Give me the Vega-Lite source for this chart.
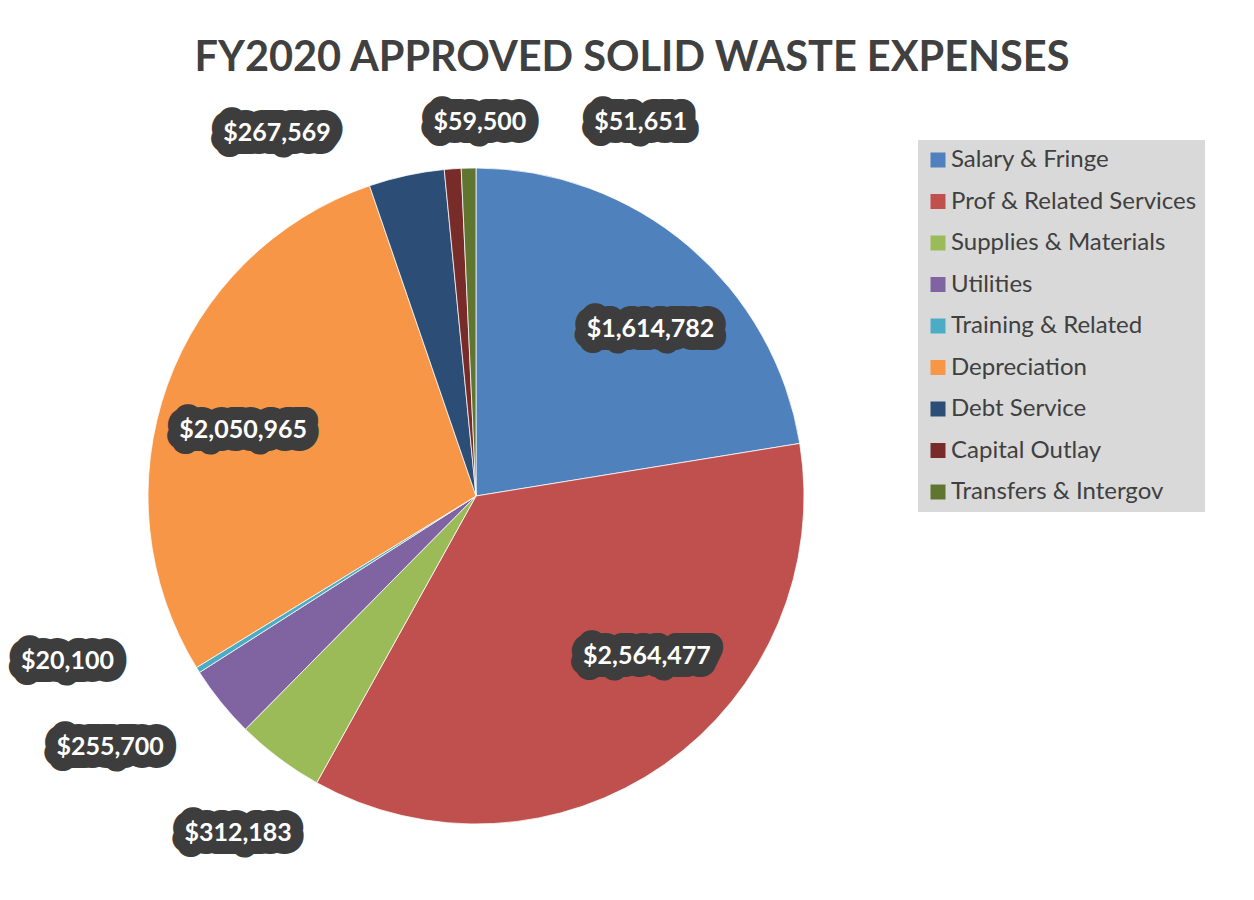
{
  "$schema": "https://vega.github.io/schema/vega-lite/v6.json",
  "autosize": {"type": "none"},
  "padding": {"left": 8, "top": 92, "right": 310, "bottom": 0},
  "width": 936,
  "height": 808,
  "background": "#ffffff",
  "config": {"view": {"stroke": null}},
  "title": {
    "text": "FY2020 APPROVED SOLID WASTE EXPENSES",
    "font": "Lato",
    "fontSize": 41.5,
    "fontWeight": "bold",
    "color": "#404040",
    "anchor": "middle",
    "frame": "group",
    "baseline": "alphabetic",
    "offset": -20,
    "dx": 156
  },
  "data": {
    "values": [
      {"idx": 1, "category": "Salary & Fringe", "value": 1614782, "label": "$1,614,782"},
      {"idx": 2, "category": "Prof & Related Services", "value": 2564477, "label": "$2,564,477"},
      {"idx": 3, "category": "Supplies & Materials", "value": 312183, "label": "$312,183"},
      {"idx": 4, "category": "Utilities", "value": 255700, "label": "$255,700"},
      {"idx": 5, "category": "Training & Related", "value": 20100, "label": "$20,100"},
      {"idx": 6, "category": "Depreciation", "value": 2050965, "label": "$2,050,965"},
      {"idx": 7, "category": "Debt Service", "value": 267569, "label": "$267,569"},
      {"idx": 8, "category": "Capital Outlay", "value": 59500, "label": "$59,500"},
      {"idx": 9, "category": "Transfers & Intergov", "value": 51651, "label": "$51,651"}
    ]
  },
  "encoding": {
    "theta": {"field": "value", "type": "quantitative", "stack": true},
    "order": {"field": "idx", "type": "quantitative", "sort": "ascending"},
    "detail": {"field": "category", "type": "nominal"}
  },
  "layer": [
    {
      "mark": {"type": "arc", "outerRadius": 328, "stroke": "#ffffff", "strokeWidth": 0.75},
      "encoding": {
        "color": {
          "field": "category",
          "type": "nominal",
          "scale": {
            "domain": ["Salary & Fringe", "Prof & Related Services", "Supplies & Materials", "Utilities", "Training & Related", "Depreciation", "Debt Service", "Capital Outlay", "Transfers & Intergov"],
            "range": ["#4F81BD", "#C0504D", "#9BBB59", "#8064A2", "#4BACC6", "#F79646", "#2C4D75", "#772C2A", "#5F7530"]
          },
          "legend": {
            "title": null,
            "orient": "none",
            "legendX": 910,
            "legendY": 48,
            "fillColor": "#d9d9d9",
            "padding": 8,
            "symbolType": "square",
            "symbolSize": 225,
            "symbolStrokeWidth": 0,
            "labelFont": "Lato",
            "labelFontSize": 24,
            "labelColor": "#404040",
            "rowPadding": 17.5,
            "labelOffset": 1,
            "labelLimit": 400
          }
        }
      }
    },
    {"mark": {"type": "text", "clip": true, "radius": 240, "dx": 19, "dy": 16, "font": "Lato", "fontWeight": "bold", "fontSize": 25, "fill": "#3d3d3d", "stroke": "#3d3d3d", "strokeWidth": 26, "strokeJoin": "round"},
     "encoding": {"text": {"condition": {"test": "datum.category === 'Salary & Fringe'", "field": "label"}, "value": ""}}},
    {"mark": {"type": "text", "clip": true, "radius": 240, "dx": 19, "dy": 16, "font": "Lato", "fontWeight": "bold", "fontSize": 25, "fill": "#ffffff"},
     "encoding": {"text": {"condition": {"test": "datum.category === 'Salary & Fringe'", "field": "label"}, "value": ""}}},
    {"mark": {"type": "text", "clip": true, "radius": 240, "dx": 33, "dy": -36, "font": "Lato", "fontWeight": "bold", "fontSize": 25, "fill": "#3d3d3d", "stroke": "#3d3d3d", "strokeWidth": 26, "strokeJoin": "round"},
     "encoding": {"text": {"condition": {"test": "datum.category === 'Prof & Related Services'", "field": "label"}, "value": ""}}},
    {"mark": {"type": "text", "clip": true, "radius": 240, "dx": 33, "dy": -36, "font": "Lato", "fontWeight": "bold", "fontSize": 25, "fill": "#ffffff"},
     "encoding": {"text": {"condition": {"test": "datum.category === 'Prof & Related Services'", "field": "label"}, "value": ""}}},
    {"mark": {"type": "text", "clip": true, "radius": 240, "dx": -7, "dy": 15, "font": "Lato", "fontWeight": "bold", "fontSize": 25, "fill": "#3d3d3d", "stroke": "#3d3d3d", "strokeWidth": 26, "strokeJoin": "round"},
     "encoding": {"text": {"condition": {"test": "datum.category === 'Depreciation'", "field": "label"}, "value": ""}}},
    {"mark": {"type": "text", "clip": true, "radius": 240, "dx": -7, "dy": 15, "font": "Lato", "fontWeight": "bold", "fontSize": 25, "fill": "#ffffff"},
     "encoding": {"text": {"condition": {"test": "datum.category === 'Depreciation'", "field": "label"}, "value": ""}}},
    {"mark": {"type": "text", "clip": true, "radius": 410, "dx": 8, "dy": 9, "font": "Lato", "fontWeight": "bold", "fontSize": 25, "fill": "#3d3d3d", "stroke": "#3d3d3d", "strokeWidth": 26, "strokeJoin": "round"},
     "encoding": {"text": {"condition": {"test": "datum.category === 'Supplies & Materials'", "field": "label"}, "value": ""}}},
    {"mark": {"type": "text", "clip": true, "radius": 410, "dx": 8, "dy": 9, "font": "Lato", "fontWeight": "bold", "fontSize": 25, "fill": "#ffffff"},
     "encoding": {"text": {"condition": {"test": "datum.category === 'Supplies & Materials'", "field": "label"}, "value": ""}}},
    {"mark": {"type": "text", "clip": true, "radius": 410, "dx": -47, "dy": -7, "font": "Lato", "fontWeight": "bold", "fontSize": 25, "fill": "#3d3d3d", "stroke": "#3d3d3d", "strokeWidth": 26, "strokeJoin": "round"},
     "encoding": {"text": {"condition": {"test": "datum.category === 'Utilities'", "field": "label"}, "value": ""}}},
    {"mark": {"type": "text", "clip": true, "radius": 410, "dx": -47, "dy": -7, "font": "Lato", "fontWeight": "bold", "fontSize": 25, "fill": "#ffffff"},
     "encoding": {"text": {"condition": {"test": "datum.category === 'Utilities'", "field": "label"}, "value": ""}}},
    {"mark": {"type": "text", "clip": true, "radius": 410, "dx": -61, "dy": -53, "font": "Lato", "fontWeight": "bold", "fontSize": 25, "fill": "#3d3d3d", "stroke": "#3d3d3d", "strokeWidth": 26, "strokeJoin": "round"},
     "encoding": {"text": {"condition": {"test": "datum.category === 'Training & Related'", "field": "label"}, "value": ""}}},
    {"mark": {"type": "text", "clip": true, "radius": 410, "dx": -61, "dy": -53, "font": "Lato", "fontWeight": "bold", "fontSize": 25, "fill": "#ffffff"},
     "encoding": {"text": {"condition": {"test": "datum.category === 'Training & Related'", "field": "label"}, "value": ""}}},
    {"mark": {"type": "text", "clip": true, "radius": 410, "dx": -112, "dy": 38, "font": "Lato", "fontWeight": "bold", "fontSize": 25, "fill": "#3d3d3d", "stroke": "#3d3d3d", "strokeWidth": 26, "strokeJoin": "round"},
     "encoding": {"text": {"condition": {"test": "datum.category === 'Debt Service'", "field": "label"}, "value": ""}}},
    {"mark": {"type": "text", "clip": true, "radius": 410, "dx": -112, "dy": 38, "font": "Lato", "fontWeight": "bold", "fontSize": 25, "fill": "#ffffff"},
     "encoding": {"text": {"condition": {"test": "datum.category === 'Debt Service'", "field": "label"}, "value": ""}}},
    {"mark": {"type": "text", "clip": true, "radius": 410, "dx": 33, "dy": 35, "font": "Lato", "fontWeight": "bold", "fontSize": 25, "fill": "#3d3d3d", "stroke": "#3d3d3d", "strokeWidth": 26, "strokeJoin": "round"},
     "encoding": {"text": {"condition": {"test": "datum.category === 'Capital Outlay'", "field": "label"}, "value": ""}}},
    {"mark": {"type": "text", "clip": true, "radius": 410, "dx": 33, "dy": 35, "font": "Lato", "fontWeight": "bold", "fontSize": 25, "fill": "#ffffff"},
     "encoding": {"text": {"condition": {"test": "datum.category === 'Capital Outlay'", "field": "label"}, "value": ""}}},
    {"mark": {"type": "text", "clip": true, "radius": 410, "dx": 174, "dy": 36, "font": "Lato", "fontWeight": "bold", "fontSize": 25, "fill": "#3d3d3d", "stroke": "#3d3d3d", "strokeWidth": 26, "strokeJoin": "round"},
     "encoding": {"text": {"condition": {"test": "datum.category === 'Transfers & Intergov'", "field": "label"}, "value": ""}}},
    {"mark": {"type": "text", "clip": true, "radius": 410, "dx": 174, "dy": 36, "font": "Lato", "fontWeight": "bold", "fontSize": 25, "fill": "#ffffff"},
     "encoding": {"text": {"condition": {"test": "datum.category === 'Transfers & Intergov'", "field": "label"}, "value": ""}}}
  ]
}
